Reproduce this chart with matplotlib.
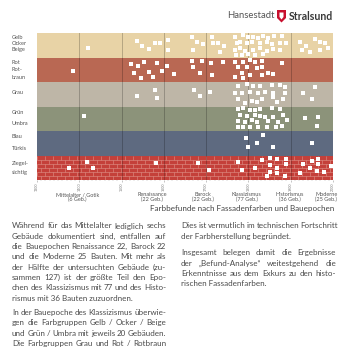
import numpy as np
import matplotlib.pyplot as plt
from matplotlib.patches import Polygon
from matplotlib.collections import LineCollection

plt.rcParams['font.family'] = ['Lato', 'DejaVu Sans']

# colour groups (rows, top to bottom)
group_lines = [['Gelb', 'Ocker', 'Beige'], ['Rot', 'Rot-', 'braun'], ['Grau'],
               ['Grün', 'Umbra'], ['Blau', 'Türkis'], ['Ziegel-', 'sichtig']]
group_colors = ['#E8D3A6', '#B96853', '#BEB6A7', '#8C937A', '#5E6A80', '#C4403A']
label_center = [0.43, 1.51, 2.41, 3.47, 4.47, 5.51]
label_gap = [0.245, 0.31, 0.0, 0.43, 0.47, 0.38]

# building epochs
epochs = ['Mittelalter / Gotik', 'Renaissance', 'Barock', 'Klassizismus', 'Historismus', 'Moderne']
epoch_counts = [6, 22, 22, 77, 36, 25]
epoch_label_years = [1395, 1572, 1692, 1796, 1898, 1984]
year_ticks = [1300, 1400, 1500, 1600, 1700, 1800, 1900, 2000]

# findings per colour group: year and position inside the row (0 = top)
gelb_year = [1421, 1536, 1548, 1565, 1579, 1591, 1610, 1610, 1666, 1678, 1669, 1692,
             1714, 1716, 1728, 1742, 1733,
             1768, 1787, 1799, 1811, 1822, 1834, 1846, 1860, 1879,
             1773, 1780, 1796, 1808, 1827, 1844, 1856, 1874, 1889,
             1768, 1780, 1792, 1811, 1827, 1844, 1858, 1874,
             1770, 1785, 1799, 1815, 1834,
             1922, 1936, 1957, 1969, 1981, 1926, 1945, 1969, 1988]
gelb_pos = [0.61, 0.33, 0.53, 0.65, 0.41, 0.41, 0.29, 0.69, 0.16, 0.37, 0.69, 0.45,
            0.16, 0.41, 0.41, 0.53, 0.78,
            0.16, 0.08, 0.16, 0.16, 0.20, 0.12, 0.20, 0.12, 0.12,
            0.41, 0.37, 0.41, 0.37, 0.41, 0.37, 0.45, 0.41, 0.41,
            0.69, 0.61, 0.73, 0.69, 0.61, 0.73, 0.65, 0.69,
            0.90, 0.90, 0.86, 0.90, 0.86,
            0.37, 0.53, 0.24, 0.37, 0.41, 0.69, 0.78, 0.69, 0.61]

rot_year = [1385, 1522, 1539, 1553, 1529, 1546, 1565, 1574, 1584, 1596, 1607, 1624,
            1666, 1690, 1669, 1685, 1711, 1714, 1740,
            1768, 1775, 1787, 1804, 1815, 1832, 1796, 1820, 1832, 1785, 1768, 1804,
            1832, 1858, 1879, 1846, 1787]
rot_pos = [0.55, 0.27, 0.35, 0.18, 0.63, 0.84, 0.59, 0.80, 0.22, 0.55, 0.35, 0.67,
           0.14, 0.14, 0.39, 0.63, 0.22, 0.71, 0.18,
           0.18, 0.39, 0.18, 0.10, 0.18, 0.14, 0.39, 0.43, 0.39, 0.63, 0.80, 0.71,
           0.71, 0.67, 0.22, 0.63, 0.84]

grau_year = [1536, 1579, 1584, 1671, 1685, 1709,
             1775, 1796, 1811, 1827, 1856, 1874, 1886,
             1768, 1785, 1804, 1822, 1839, 1858, 1886,
             1775, 1792, 1808, 1820, 1832, 1867, 1882, 1858,
             1929, 1957, 1950]
grau_pos = [0.57, 0.33, 0.65, 0.33, 0.57, 0.41,
            0.16, 0.08, 0.16, 0.16, 0.12, 0.12, 0.20,
            0.45, 0.45, 0.41, 0.45, 0.41, 0.45, 0.45,
            0.69, 0.86, 0.78, 0.82, 0.69, 0.82, 0.69, 0.61,
            0.45, 0.20, 0.69]

gruen_year = [1411,
              1775, 1787, 1804, 1815, 1827, 1856, 1874,
              1780, 1796, 1815, 1827, 1839, 1858, 1882,
              1775, 1792, 1808, 1820, 1846, 1870, 1891,
              1775, 1787, 1804, 1822, 1844, 1865, 1879,
              1934, 1964, 1962]
gruen_pos = [0.39,
             0.10, 0.06, 0.14, 0.14, 0.10, 0.06, 0.10,
             0.35, 0.39, 0.35, 0.39, 0.43, 0.43, 0.35,
             0.59, 0.63, 0.55, 0.63, 0.59, 0.63, 0.55,
             0.84, 0.84, 0.84, 0.84, 0.84, 0.84, 0.80,
             0.47, 0.43, 0.80]

blau_year = [1794, 1799, 1820, 1834, 1858, 1950]
blau_pos = [0.29, 0.65, 0.49, 0.16, 0.65, 0.49]

ziegel_year = [1376, 1418, 1432, 1581, 1681, 1707,
               1775, 1785, 1815, 1832, 1851, 1851, 1867, 1889, 1889, 1867, 1851, 1867,
               1886, 1844,
               1922, 1929, 1950, 1964, 1945, 1964, 1962, 1978, 1995]
ziegel_pos = [0.51, 0.27, 0.51, 0.31, 0.31, 0.59,
              0.27, 0.59, 0.51, 0.18, 0.10, 0.39, 0.14, 0.14, 0.35, 0.51, 0.67, 0.71,
              0.84, 0.84,
              0.71, 0.35, 0.22, 0.14, 0.51, 0.35, 0.63, 0.67, 0.43]

dot_years = [gelb_year, rot_year, grau_year, gruen_year, blau_year, ziegel_year]
dot_pos = [gelb_pos, rot_pos, grau_pos, gruen_pos, blau_pos, ziegel_pos]

# page text
left_paragraphs = [
    ['Während für das Mittelalter lediglich sechs',
     'Gebäude dokumentiert sind, entfallen auf',
     'die Bauepochen Renaissance 22,  Barock 22',
     'und die Moderne 25 Bauten. Mit mehr als',
     'der Hälfte der untersuchten Gebäude (zu-',
     'sammen 127) ist der größte Teil den Epo-',
     'chen des Klassizismus mit 77 und des Histo-',
     'rismus mit 36 Bauten zuzuordnen.'],
    ['In der Bauepoche des Klassizismus überwie-',
     'gen die Farbgruppen Gelb / Ocker / Beige',
     'und Grün / Umbra mit jeweils 20 Gebäuden.',
     'Die Farbgruppen Grau und Rot / Rotbraun',
     'sind mit 16 bzw. 12 Gebäuden vertreten.'],
]
right_paragraphs = [
    ['Dies ist vermutlich im technischen Fortschritt',
     'der Farbherstellung begründet.'],
    ['Insgesamt belegen damit die Ergebnisse',
     'der „Befund-Analyse“ weitestgehend die',
     'Erkenntnisse aus dem Exkurs zu den histo-',
     'rischen Fassadenfarben.'],
]

W = H = 350
fig = plt.figure(figsize=(3.5, 3.5), dpi=100)
ax = fig.add_axes([37 / W, 170 / H, 296 / W, 147 / H])

for i, c in enumerate(group_colors):
    ax.axhspan(i, i + 1, color=c, lw=0, zorder=0)

# brick pattern for the last row
rows = np.linspace(5, 6, 7)
segs = [[(1300, r), (2000, r)] for r in rows[1:-1]]
for k in range(6):
    start = 1300 + (9 if k % 2 else 0)
    for xj in np.arange(start, 2000, 19):
        segs.append([(xj, rows[k]), (xj, rows[k + 1])])
ax.add_collection(LineCollection(segs, colors='#E0938A', linewidths=0.4, zorder=1))

for yr in year_ticks[1:-1]:
    ax.axvline(yr, color='#000000', alpha=0.22, lw=0.7, zorder=2)

for i in range(6):
    ax.scatter(dot_years[i], np.array(dot_pos[i]) + i, marker='s', s=5.5,
               color='white', linewidths=0, zorder=3)

ax.set_xlim(1300, 2000)
ax.set_ylim(6, 0)
for s in ax.spines.values():
    s.set_visible(False)
ax.set_yticks([])
ax.set_xticks(year_ticks)
ax.set_xticklabels([str(y) for y in year_ticks], rotation=90, fontsize=2.6, color='#777')
ax.set_xticks(np.arange(1300, 2001, 10), minor=True)
ax.tick_params(axis='x', which='major', length=1.5, width=0.4, color='#999', pad=0.5)
ax.tick_params(axis='x', which='minor', length=0.8, width=0.3, color='#aaa')

for lines, yc, gap in zip(group_lines, label_center, label_gap):
    n = len(lines)
    for j, t in enumerate(lines):
        ax.text(-0.085, yc + (j - (n - 1) / 2) * gap, t, transform=ax.get_yaxis_transform(),
                ha='left', va='center', fontsize=4.1, color='#555')

for name, n, yr in zip(epochs, epoch_counts, epoch_label_years):
    ax.text(yr, -0.082, f'{name}\n({n} Geb.)', transform=ax.get_xaxis_transform(),
            ha='center', va='top', fontsize=4.0, color='#555', linespacing=0.95)

fig.text(334 / W, 1 - 208.5 / H, 'Farbbefunde nach Fassadenfarben und Bauepochen',
         ha='right', va='center', fontsize=5.8, color='#444')

# header
fig.text(275 / W, 1 - 16 / H, 'Hansestadt', ha='right', va='center', fontsize=6.8, color='#555')
fig.text(289 / W, 1 - 16 / H, 'Stralsund', ha='left', va='center', fontsize=7.6,
         color='#3a3a3a', fontweight='bold')
shield = [(277, 10), (286, 10), (286, 18), (281.5, 22.5), (277, 18)]
fig.patches.append(Polygon([(x / W, 1 - y / H) for x, y in shield], closed=True,
                           transform=fig.transFigure, color='#C8102E', lw=0))
emblem = [(279.5, 12.5), (283.5, 12.5), (283.5, 17), (281.5, 19.5), (279.5, 17)]
fig.patches.append(Polygon([(x / W, 1 - y / H) for x, y in emblem], closed=True,
                           transform=fig.transFigure, color='white', lw=0))

# justified body text
renderer = fig.canvas.get_renderer()
BODY = 5.8


def column(paragraphs, x0, x1, y0, dy, pgap):
    y = y0
    for para in paragraphs:
        for i, line in enumerate(para):
            words = line.split()
            last = i == len(para) - 1
            if last or len(words) < 2:
                fig.text(x0 / W, 1 - y / H, line, ha='left', va='center',
                         fontsize=BODY, color='#4a4a4a')
            else:
                ts = [fig.text(0, 1 - y / H, w, ha='left', va='center',
                               fontsize=BODY, color='#4a4a4a') for w in words]
                ws = [t.get_window_extent(renderer).width for t in ts]
                gap = max((x1 - x0 - sum(ws)) / (len(words) - 1), 1.2)
                x = x0
                for t, w in zip(ts, ws):
                    t.set_x(x / W)
                    x += w + gap
            y += dy
        y += pgap


column(left_paragraphs, 12, 166, 226, 10.3, 4.0)
column(right_paragraphs, 181, 336, 226, 10.2, 6.5)

fig.savefig('out.png', dpi=100)
